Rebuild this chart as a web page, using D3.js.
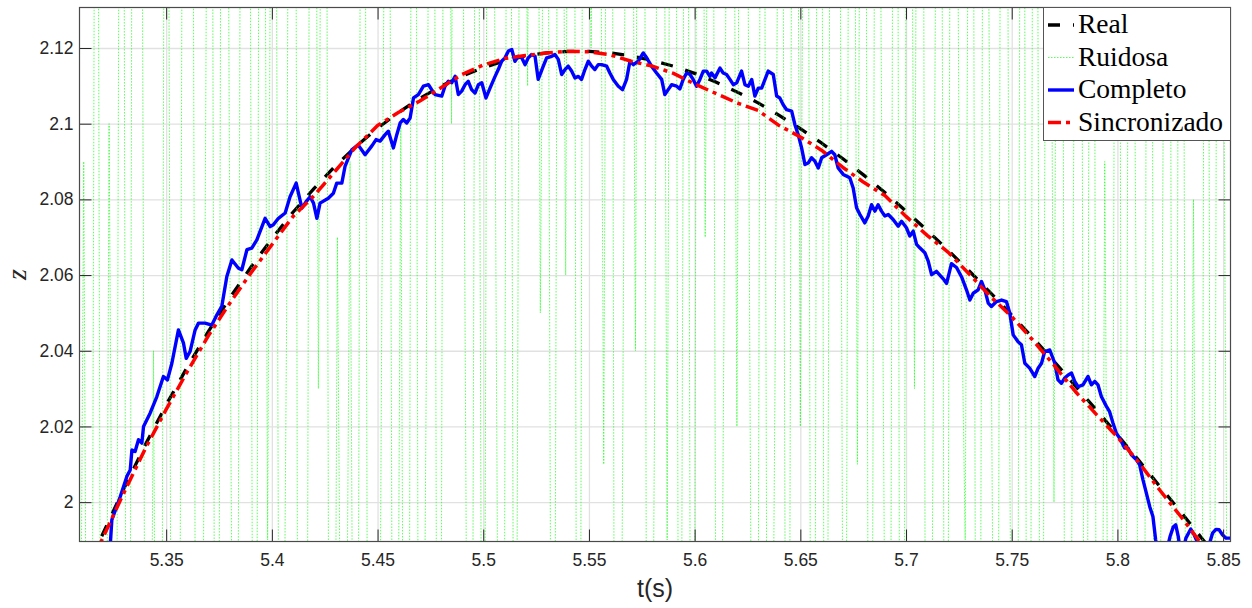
<!DOCTYPE html>
<html>
<head>
<meta charset="utf-8">
<script src="https://cdn.jsdelivr.net/npm/d3@7"></script>
<style>
  html, body { margin: 0; padding: 0; background: #fff; }
  svg { display: block; }
</style>
</head>
<body>
<svg id="chart" width="1252" height="608"></svg>
<script>
// ---- tick values ----
const xTicks = [5.35, 5.4, 5.45, 5.5, 5.55, 5.6, 5.65, 5.7, 5.75, 5.8, 5.85];
const yTicks = [2, 2.02, 2.04, 2.06, 2.08, 2.1, 2.12];

// ---- reference trajectory (Real) and synchronized estimate, sampled every 0.01 s ----
const gridT = [5.31, 5.32, 5.33, 5.34, 5.35, 5.36, 5.37, 5.38, 5.39, 5.40, 5.41, 5.42, 5.43, 5.44,
  5.45, 5.46, 5.47, 5.48, 5.49, 5.50, 5.51, 5.52, 5.53, 5.54, 5.55, 5.56, 5.57, 5.58, 5.59, 5.60,
  5.61, 5.62, 5.63, 5.64, 5.65, 5.66, 5.67, 5.68, 5.69, 5.70, 5.71, 5.72, 5.73, 5.74, 5.75, 5.76,
  5.77, 5.78, 5.79, 5.80, 5.81, 5.82, 5.83, 5.84, 5.85];
const realZ = [1.9789, 1.9916, 2.0036, 2.0150, 2.0257, 2.0357, 2.0451, 2.0539, 2.0620, 2.0696,
  2.0766, 2.0829, 2.0888, 2.0941, 2.0988, 2.1030, 2.1067, 2.1099, 2.1126, 2.1148, 2.1166, 2.1179,
  2.1187, 2.1191, 2.1191, 2.1187, 2.1179, 2.1167, 2.1152, 2.1133, 2.1110, 2.1084, 2.1055, 2.1022,
  2.0987, 2.0949, 2.0908, 2.0864, 2.0818, 2.0769, 2.0718, 2.0665, 2.0610, 2.0553, 2.0494, 2.0434,
  2.0372, 2.0308, 2.0244, 2.0178, 2.0111, 2.0042, 1.9974, 1.9904, 1.9834];
const sincZ = [1.9785, 1.9905, 2.0025, 2.0140, 2.0245, 2.0345, 2.0440, 2.0525, 2.0605, 2.0680,
  2.0755, 2.0810, 2.0875, 2.0940, 2.0995, 2.1030, 2.1060, 2.1095, 2.1130, 2.1155, 2.1172, 2.1180,
  2.1187, 2.1191, 2.1190, 2.1182, 2.1165, 2.1152, 2.1133, 2.1105, 2.1080, 2.1055, 2.1035, 2.0995,
  2.0965, 2.0930, 2.0885, 2.0845, 2.0810, 2.0755, 2.0705, 2.0660, 2.0602, 2.0543, 2.0490, 2.0428,
  2.0362, 2.0293, 2.0232, 2.0172, 2.0106, 2.0032, 1.9962, 1.9888, 1.9818];

// ---- noisy measurement (Ruidosa), sampled every 3 ms starting at 5.308 s ----
const ruidosaT0 = 5.308, ruidosaDt = 0.003;
const ruidosaZ = [
  1.80, 2.09, 1.74, 2.35, 1.71, 2.10, 1.83, 2.42, 1.69, 2.48, 2.27, 1.77, 2.04, 1.72, 2.39, 1.81, 1.86,
  2.44, 2.31, 1.73, 2.02, 2.37, 1.70, 2.46, 2.08, 1.78, 2.33, 2.29, 1.76, 2.41, 1.99, 2.36,
  1.82, 2.05, 2.52, 1.75, 1.79, 2.43, 2.03, 2.38, 1.71, 2.07, 1.84, 2.09, 1.77, 2.40, 1.80, 1.73,
  2.05, 2.31, 1.76, 2.10, 1.70, 2.44, 1.79, 2.03, 2.37, 1.73, 2.36, 2.10, 2.47, 2.09, 1.77, 2.34,
  1.80, 2.42, 2.06, 1.75, 2.39, 1.82, 2.31, 2.11, 2.45, 2.05, 2.29, 1.78, 2.35, 2.06, 2.48, 1.72,
  2.40, 2.12, 2.33, 2.01, 2.44, 1.70, 2.02, 2.36, 2.04, 2.51, 1.76, 2.02, 2.38, 1.99, 2.43, 1.81,
  2.37, 1.74, 2.41, 2.07, 2.32, 1.79, 2.06, 2.35, 2.02, 2.44, 2.05, 1.73, 2.38, 1.80, 2.03, 2.31,
  1.76, 2.40, 2.02, 2.34, 1.71, 2.45, 1.78, 2.36, 2.29, 1.82, 2.39, 2.01, 2.42, 1.75, 2.33, 2.05,
  1.79, 2.44, 1.70, 2.37, 2.03, 2.48, 1.74, 2.04, 2.35, 1.77, 2.41, 2.10, 1.99, 2.36, 1.72, 2.30,
  2.07, 1.81, 2.46, 2.02, 1.76, 2.39, 1.73, 2.42, 1.80, 2.33, 2.00, 2.45, 1.71, 2.06, 2.37, 1.78,
  2.43, 1.69, 2.09, 1.83, 2.40, 1.75, 2.31, 2.04, 1.72, 2.47, 1.79, 2.03, 2.36, 1.74, 2.41, 1.81,
  2.08, 1.70, 2.38, 1.76, 2.34, 2.05, 1.77
];

// ---- full filter output (Completo): [t, z] ----
const completo = [
  [5.3220, 1.9840], [5.3237, 1.9900], [5.3243, 1.9953], [5.3283, 2.0015], [5.3314, 2.0068],
  [5.3330, 2.0085], [5.3338, 2.0138], [5.3353, 2.0134], [5.3369, 2.0165], [5.3385, 2.0156],
  [5.3393, 2.0200], [5.3424, 2.0235], [5.3456, 2.0279], [5.3487, 2.0332], [5.3506, 2.0323],
  [5.3527, 2.0367], [5.3558, 2.0455], [5.3582, 2.0420], [5.3595, 2.0380], [5.3613, 2.0398],
  [5.3637, 2.0455], [5.3653, 2.0473], [5.3684, 2.0473], [5.3716, 2.0468], [5.3740, 2.0495],
  [5.3763, 2.0517], [5.3787, 2.0596], [5.3811, 2.0640], [5.3842, 2.0618], [5.3858, 2.0614],
  [5.3882, 2.0667], [5.3905, 2.0671], [5.3929, 2.0693], [5.3953, 2.0728], [5.3968, 2.0750],
  [5.3992, 2.0728], [5.4007, 2.0733], [5.4031, 2.0750], [5.4063, 2.0764], [5.4086, 2.0807],
  [5.4115, 2.0843], [5.4126, 2.0816], [5.4142, 2.0777], [5.4162, 2.0794], [5.4181, 2.0807],
  [5.4197, 2.0790], [5.4213, 2.0750], [5.4228, 2.0790], [5.4267, 2.0803], [5.4291, 2.0816],
  [5.4307, 2.0843], [5.4331, 2.0843], [5.4346, 2.0887], [5.4378, 2.0931], [5.4408, 2.0944],
  [5.4441, 2.0918], [5.4474, 2.0942], [5.4493, 2.0958],
  [5.4512, 2.0954], [5.4536, 2.0971], [5.4551, 2.0980], [5.4575, 2.0936], [5.4591, 2.0971],
  [5.4607, 2.1002], [5.4622, 2.1011], [5.4638, 2.1002], [5.4654, 2.1015], [5.4670, 2.1068],
  [5.4693, 2.1077], [5.4717, 2.1099], [5.4741, 2.1103], [5.4756, 2.1090], [5.4772, 2.1077],
  [5.4804, 2.1073], [5.4819, 2.1099], [5.4835, 2.1112], [5.4851, 2.1108], [5.4867, 2.1125],
  [5.4882, 2.1077], [5.4898, 2.1086], [5.4914, 2.1103], [5.4929, 2.1112], [5.4945, 2.1090],
  [5.4961, 2.1081], [5.4977, 2.1103], [5.4993, 2.1108], [5.5013, 2.1068], [5.5032, 2.1094],
  [5.5056, 2.1125], [5.5071, 2.1143], [5.5087, 2.1165], [5.5103, 2.1174], [5.5119, 2.1192],
  [5.5135, 2.1196], [5.5150, 2.1165], [5.5166, 2.1178], [5.5182, 2.1174], [5.5198, 2.1156],
  [5.5213, 2.1174], [5.5229, 2.1183], [5.5245, 2.1178], [5.5260, 2.1117], [5.5284, 2.1152],
  [5.5300, 2.1174], [5.5324, 2.1178], [5.5339, 2.1183], [5.5355, 2.1170], [5.5371, 2.1130],
  [5.5387, 2.1143], [5.5402, 2.1152], [5.5418, 2.1139], [5.5434, 2.1121], [5.5450, 2.1125],
  [5.5465, 2.1117], [5.5481, 2.1143], [5.5497, 2.1165], [5.5513, 2.1152], [5.5528, 2.1143],
  [5.5544, 2.1156], [5.5560, 2.1156], [5.5584, 2.1152], [5.5599, 2.1134], [5.5615, 2.1117],
  [5.5639, 2.1099], [5.5659, 2.1090], [5.5678, 2.1117], [5.5694, 2.1165], [5.5710, 2.1156],
  [5.5733, 2.1165], [5.5757, 2.1187], [5.5773, 2.1174], [5.5796, 2.1152], [5.5820, 2.1134],
  [5.5844, 2.1117], [5.5859, 2.1077], [5.5875, 2.1090], [5.5891, 2.1103], [5.5915, 2.1099],
  [5.5930, 2.1092], [5.5946, 2.1117], [5.5962, 2.1134], [5.5978, 2.1130], [5.5993, 2.1117],
  [5.6009, 2.1099], [5.6025, 2.1117], [5.6041, 2.1139], [5.6057, 2.1139], [5.6072, 2.1125],
  [5.6080, 2.1134], [5.6096, 2.1121], [5.6120, 2.1147], [5.6135, 2.1134], [5.6151, 2.1130],
  [5.6167, 2.1117], [5.6183, 2.1103], [5.6199, 2.1108], [5.6222, 2.1139], [5.6238, 2.1103],
  [5.6254, 2.1099], [5.6270, 2.1117], [5.6285, 2.1073], [5.6301, 2.1094], [5.6317, 2.1094],
  [5.6333, 2.1117], [5.6348, 2.1139], [5.6372, 2.1130], [5.6388, 2.1073], [5.6403, 2.1068],
  [5.6419, 2.1050], [5.6435, 2.1037], [5.6459, 2.1033], [5.6474, 2.0998], [5.6490, 2.0971],
  [5.6506, 2.0936], [5.6522, 2.0892], [5.6537, 2.0896], [5.6553, 2.0910], [5.6569, 2.0901],
  [5.6585, 2.0883], [5.6601, 2.0910], [5.6624, 2.0918], [5.6648, 2.0927], [5.6663, 2.0918],
  [5.6679, 2.0883], [5.6703, 2.0866], [5.6734, 2.0857], [5.6750, 2.0830], [5.6766, 2.0778],
  [5.6782, 2.0760], [5.6805, 2.0738], [5.6821, 2.0756], [5.6837, 2.0786], [5.6853, 2.0769],
  [5.6868, 2.0786], [5.6884, 2.0769], [5.6900, 2.0756], [5.6916, 2.0760], [5.6939, 2.0747],
  [5.6963, 2.0729], [5.6979, 2.0742], [5.7002, 2.0725], [5.7018, 2.0703], [5.7034, 2.0716],
  [5.7050, 2.0681], [5.7065, 2.0672], [5.7089, 2.0659], [5.7105, 2.0637], [5.7121, 2.0601],
  [5.7144, 2.0610], [5.7176, 2.0590], [5.7192, 2.0578], [5.7215, 2.0630], [5.7239, 2.0620],
  [5.7263, 2.0595], [5.7286, 2.0561], [5.7302, 2.0534], [5.7318, 2.0552], [5.7341, 2.0561],
  [5.7357, 2.0583], [5.7373, 2.0561], [5.7389, 2.0526], [5.7404, 2.0517], [5.7428, 2.0530],
  [5.7452, 2.0534], [5.7475, 2.0530], [5.7491, 2.0499], [5.7507, 2.0442], [5.7530, 2.0424],
  [5.7546, 2.0416], [5.7562, 2.0367], [5.7585, 2.0354], [5.7609, 2.0332], [5.7625, 2.0354],
  [5.7641, 2.0367], [5.7656, 2.0398], [5.7680, 2.0402], [5.7704, 2.0367], [5.7719, 2.0323],
  [5.7735, 2.0314], [5.7751, 2.0328], [5.7767, 2.0336], [5.7783, 2.0341], [5.7798, 2.0319],
  [5.7814, 2.0305], [5.7837, 2.0310], [5.7861, 2.0332], [5.7877, 2.0310], [5.7893, 2.0319],
  [5.7908, 2.0310], [5.7924, 2.0279], [5.7948, 2.0253], [5.7963, 2.0239], [5.7979, 2.0209],
  [5.7995, 2.0182], [5.8011, 2.0169], [5.8034, 2.0143], [5.8050, 2.0143], [5.8066, 2.0125],
  [5.8090, 2.0112], [5.8105, 2.0099], [5.8121, 2.0059], [5.8137, 2.0024], [5.8153, 1.9988],
  [5.8168, 1.9962], [5.8181, 1.9900], [5.8200, 1.9850], [5.8228, 1.9860], [5.8249, 1.9909],
  [5.8264, 1.9934], [5.8276, 1.9940], [5.8288, 1.9909], [5.8300, 1.9860], [5.8310, 1.9870],
  [5.8324, 1.9905], [5.8347, 1.9929], [5.8363, 1.9914], [5.8382, 1.9890], [5.8404, 1.9850],
  [5.8430, 1.9880], [5.8450, 1.9918], [5.8466, 1.9928], [5.8481, 1.9927], [5.8497, 1.9914],
  [5.8513, 1.9905], [5.8540, 1.9905]
];

const seriesNames = ["Real", "Ruidosa", "Completo", "Sincronizado"];

// ---- layout ----
const plotLeft = 79.5, plotRight = 1230.5, plotTop = 7.5, plotBottom = 541.5;
const axisColor = "#262626";

const svg = d3.select("#chart");

const x = d3.scaleLinear().domain([5.309, 5.8535]).range([plotLeft, plotRight]);
const y = d3.scaleLinear().domain([1.9896, 2.1307]).range([plotBottom, plotTop]);

// clip for the data lines
svg.append("defs").append("clipPath").attr("id", "plot-clip")
  .append("rect")
  .attr("x", plotLeft).attr("y", plotTop)
  .attr("width", plotRight - plotLeft).attr("height", plotBottom - plotTop);

// grid
const grid = svg.append("g").attr("class", "grid");
grid.append("g")
  .attr("transform", `translate(0,${plotBottom})`)
  .call(d3.axisBottom(x).tickValues(xTicks).tickSize(-(plotBottom - plotTop)).tickSizeOuter(0).tickFormat(""))
  .call(g => g.select(".domain").remove())
  .call(g => g.selectAll("line").attr("stroke", "#e1e1e1").attr("stroke-width", 1.3));
grid.append("g")
  .attr("transform", `translate(${plotLeft},0)`)
  .call(d3.axisLeft(y).tickValues(yTicks).tickSize(-(plotRight - plotLeft)).tickSizeOuter(0).tickFormat(""))
  .call(g => g.select(".domain").remove())
  .call(g => g.selectAll("line").attr("stroke", "#e1e1e1").attr("stroke-width", 1.3));

// data
const line = d3.line().x(d => x(d[0])).y(d => y(d[1]));
const plot = svg.append("g").attr("clip-path", "url(#plot-clip)");

const realData = gridT.map((t, i) => [t, realZ[i]]);
const sincData = gridT.map((t, i) => [t, sincZ[i]]);
const ruidosaData = ruidosaZ.map((z, i) => [ruidosaT0 + i * ruidosaDt, z]);

const styles = {
  Real: { stroke: "#000000", width: 3.3, dash: "12 13" },
  Ruidosa: { stroke: "#00ff00", width: 1, dash: "1.5 1.5", opacity: 0.65 },
  Completo: { stroke: "#0000ff", width: 3.4, dash: null },
  Sincronizado: { stroke: "#ff0000", width: 3.5, dash: "13 5 4 5" }
};

function drawSeries(data, s) {
  plot.append("path")
    .datum(data)
    .attr("d", line)
    .attr("fill", "none")
    .attr("stroke", s.stroke)
    .attr("stroke-width", s.width)
    .attr("stroke-dasharray", s.dash)
    .attr("stroke-opacity", s.opacity || 1)
    .attr("stroke-linejoin", "round")
    .attr("stroke-linecap", "butt");
}
drawSeries(realData, styles.Real);
drawSeries(ruidosaData, styles.Ruidosa);
drawSeries(completo, styles.Completo);
drawSeries(sincData, styles.Sincronizado);

// axes (inward ticks on all four sides)
const tickLen = 12;
const tickFont = "'Liberation Sans', Arial, Helvetica, sans-serif";

const xAxis = svg.append("g")
  .attr("transform", `translate(0,${plotBottom})`)
  .call(d3.axisBottom(x).tickValues(xTicks).tickSizeInner(-tickLen).tickSizeOuter(0).tickPadding(12)
    .tickFormat(d3.format("~g")));
const yAxis = svg.append("g")
  .attr("transform", `translate(${plotLeft},0)`)
  .call(d3.axisLeft(y).tickValues(yTicks).tickSizeInner(-tickLen).tickSizeOuter(0).tickPadding(6)
    .tickFormat(d3.format("~g")));
const xTop = svg.append("g")
  .attr("transform", `translate(0,${plotTop})`)
  .call(d3.axisTop(x).tickValues(xTicks).tickSizeInner(-tickLen).tickSizeOuter(0).tickFormat(""));
const yRight = svg.append("g")
  .attr("transform", `translate(${plotRight},0)`)
  .call(d3.axisRight(y).tickValues(yTicks).tickSizeInner(-tickLen).tickSizeOuter(0).tickFormat(""));

[xAxis, yAxis, xTop, yRight].forEach(g => {
  g.select(".domain").remove();
  g.selectAll("line").attr("stroke", axisColor).attr("stroke-width", 1);
  g.selectAll("text").attr("fill", axisColor).style("font-family", tickFont).style("font-size", "17.5px");
});

// axes box
svg.append("rect")
  .attr("x", plotLeft).attr("y", plotTop)
  .attr("width", plotRight - plotLeft).attr("height", plotBottom - plotTop)
  .attr("fill", "none").attr("stroke", "#4a4a4a").attr("stroke-width", 1.2);

// axis labels
svg.append("text")
  .attr("x", (plotLeft + plotRight) / 2).attr("y", 597)
  .attr("text-anchor", "middle")
  .attr("fill", axisColor)
  .style("font-family", tickFont).style("font-size", "25px")
  .text("t(s)");
svg.append("text")
  .attr("transform", `translate(26,${(plotTop + plotBottom) / 2}) rotate(-90)`)
  .attr("text-anchor", "middle")
  .attr("fill", axisColor)
  .style("font-family", "'Liberation Serif', 'DejaVu Serif', serif")
  .style("font-style", "italic")
  .style("font-size", "28px")
  .text("z");

// legend
const legend = svg.append("g");
legend.append("rect")
  .attr("x", 1043.5).attr("y", 7.5).attr("width", 187).attr("height", 133)
  .attr("fill", "#fff").attr("stroke", "#555").attr("stroke-width", 1);
const rowY = [25, 57.5, 90, 122.5];
seriesNames.forEach((name, i) => {
  const s = styles[name];
  legend.append("line")
    .attr("x1", 1048).attr("x2", 1074).attr("y1", rowY[i]).attr("y2", rowY[i])
    .attr("stroke", s.stroke).attr("stroke-width", s.width)
    .attr("stroke-dasharray", s.dash)
    .attr("stroke-opacity", s.opacity || 1);
  legend.append("text")
    .attr("x", 1078).attr("y", rowY[i] + 8)
    .attr("fill", "#000")
    .style("font-family", "'Liberation Serif', 'Times New Roman', serif")
    .style("font-size", "27.5px")
    .text(name);
});
</script>
</body>
</html>
